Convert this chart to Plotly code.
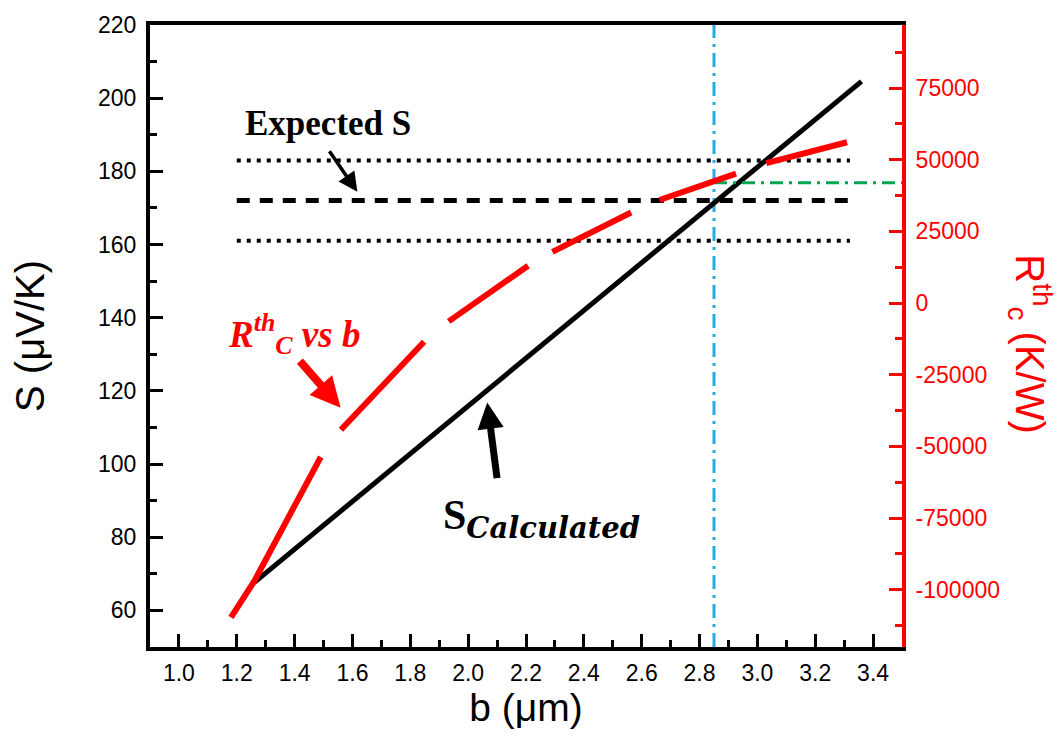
import plotly.graph_objects as go

# ---------------- data ----------------
b_calc = [1.26, 3.36]
s_calc = [67.6, 204.6]

b_r = [1.18, 1.26, 1.50, 1.56, 1.86, 1.93, 2.22, 2.29, 2.58, 2.66, 2.95, 3.03, 3.31]
r_c = [-109700, -97100, -51900, -44200, -12200, -6600, 13900, 17800,
       32400, 35900, 46000, 48800, 56100]

b_expected = [1.2, 3.32]
s_expected_hi = 183
s_expected_mid = 172
s_expected_lo = 161

b_chosen = 2.85
r_chosen = 42000
b_axis_end = 3.5

x_tickvals = [1.0, 1.2, 1.4, 1.6, 1.8, 2.0, 2.2, 2.4, 2.6, 2.8, 3.0, 3.2, 3.4]
x_ticktext = ["1.0", "1.2", "1.4", "1.6", "1.8", "2.0", "2.2", "2.4", "2.6",
              "2.8", "3.0", "3.2", "3.4"]
y_tickvals = [60, 80, 100, 120, 140, 160, 180, 200, 220]
y_ticktext = ["60", "80", "100", "120", "140", "160", "180", "200", "220"]
y2_tickvals = [-100000, -75000, -50000, -25000, 0, 25000, 50000, 75000]
y2_ticktext = ["-100000", "-75000", "-50000", "-25000", "0", "25000", "50000", "75000"]

# ---------------- figure ----------------
RED = "#FF0000"
BLUE = "#29ABE2"
GREEN = "#00A651"
SANS = "Liberation Sans, Arial, sans-serif"
SERIF = "Liberation Serif, Times New Roman, serif"
MATH = "DejaVu Serif, serif"

fig = go.Figure()

for lvl in (s_expected_hi, s_expected_lo):
    fig.add_trace(go.Scatter(x=b_expected, y=[lvl, lvl], mode="lines",
                             line=dict(color="black", width=4, dash="4px,6px"),
                             showlegend=False, hoverinfo="skip"))
fig.add_trace(go.Scatter(x=b_expected, y=[s_expected_mid, s_expected_mid], mode="lines",
                         line=dict(color="black", width=5, dash="13px,10px"),
                         showlegend=False, hoverinfo="skip"))

fig.add_trace(go.Scatter(x=[b_chosen, b_chosen], y=[50, 220], mode="lines",
                         line=dict(color=BLUE, width=3, dash="14px,6px,3px,6px"),
                         showlegend=False, hoverinfo="skip"))

fig.add_trace(go.Scatter(x=b_calc, y=s_calc, mode="lines",
                         line=dict(color="black", width=5),
                         showlegend=False))

fig.add_trace(go.Scatter(x=[b_chosen, b_axis_end], y=[r_chosen, r_chosen], mode="lines",
                         yaxis="y2",
                         line=dict(color=GREEN, width=3, dash="13px,6px,3px,6px"),
                         showlegend=False, hoverinfo="skip"))

fig.add_trace(go.Scatter(x=b_r, y=r_c, mode="lines", yaxis="y2",
                         line=dict(color=RED, width=6,
                                   dash="184px,34px,121px,32px,97px,28px,88px,31px,81px,32px,90px,30px"),
                         showlegend=False))

tickfont = dict(family=SANS, size=23, color="black")

fig.update_layout(
    width=1061, height=746,
    margin=dict(l=150, r=159, t=25, b=99),
    plot_bgcolor="white", paper_bgcolor="white",
    xaxis=dict(range=[0.9, 3.5], showgrid=False, zeroline=False,
               showline=True, linecolor="black", linewidth=4, mirror=True,
               ticks="inside", ticklen=13, tickwidth=3, tickcolor="black",
               tickvals=x_tickvals, ticktext=x_ticktext, tickfont=tickfont,
               ticklabelstandoff=2,
               minor=dict(ticks="inside", ticklen=7, tickwidth=3, tickcolor="black",
                          dtick=0.1, tick0=0.9),
               title=dict(text="b (μm)", font=dict(family=SANS, size=39, color="black"),
                          standoff=10)),
    yaxis=dict(range=[50, 220], showgrid=False, zeroline=False,
               showline=True, linecolor="black", linewidth=4,
               ticks="inside", ticklen=13, tickwidth=3, tickcolor="black",
               tickvals=y_tickvals, ticktext=y_ticktext, tickfont=tickfont,
               ticklabelstandoff=5,
               minor=dict(ticks="inside", ticklen=7, tickwidth=3, tickcolor="black",
                          dtick=10, tick0=50),
               title=dict(text="S (μV/K)", font=dict(family=SANS, size=40, color="black"),
                          standoff=42)),
    yaxis2=dict(range=[-120000, 97000], overlaying="y", side="right",
                showgrid=False, zeroline=False,
                showline=True, linecolor=RED, linewidth=4,
                ticks="inside", ticklen=13, tickwidth=3, tickcolor=RED,
                tickvals=y2_tickvals, ticktext=y2_ticktext,
                tickfont=dict(family=SANS, size=23, color=RED),
                ticklabelstandoff=5,
                minor=dict(ticks="inside", ticklen=7, tickwidth=3, tickcolor=RED,
                           dtick=12500, tick0=0)),
)

annotations = [
    # right axis title (reads top-to-bottom)
    dict(text="R<sup>th</sup><sub>c</sub> (K/W)", xref="paper", yref="paper",
         x=1.17, y=0.487, xanchor="center", yanchor="middle",
         showarrow=False, textangle=90,
         font=dict(family=SANS, size=40, color=RED)),
    # labels
    dict(text="<b>Expected S</b>", x=1.514, y=193.2, xref="x", yref="y",
         xanchor="center", yanchor="middle",
         showarrow=False, font=dict(family=SERIF, size=35, color="black")),
    dict(text="<b><i>R<sup>th</sup><sub>C</sub> vs b</i></b>", x=1.397, y=135.5,
         xref="x", yref="y", xanchor="center", yanchor="middle", showarrow=False,
         font=dict(family=SERIF, size=37, color=RED)),
    dict(text="<b>S<sub><i><span style='font-family:DejaVu Serif;font-size:29px'>Calculated</span></i></sub></b>",
         x=2.255, y=85.0, xref="x", yref="y", xanchor="center", yanchor="middle",
         showarrow=False,
         font=dict(family=SERIF, size=42, color="black")),
    # arrows
    dict(text="", x=1.617, y=174.4, xref="x", yref="y", ax=-29, ay=-42,
         showarrow=True, arrowhead=2, arrowwidth=3.5, arrowsize=1.1, arrowcolor="black"),
    dict(text="", x=1.559, y=115.4, xref="x", yref="y", ax=-42, ay=-48,
         showarrow=True, arrowhead=2, arrowwidth=8, arrowsize=0.75, arrowcolor=RED),
    dict(text="", x=2.066, y=116.8, xref="x", yref="y", ax=10, ay=77,
         showarrow=True, arrowhead=2, arrowwidth=7, arrowsize=0.75, arrowcolor="black"),
]
fig.update_layout(annotations=annotations)

fig.write_html("out.html")
